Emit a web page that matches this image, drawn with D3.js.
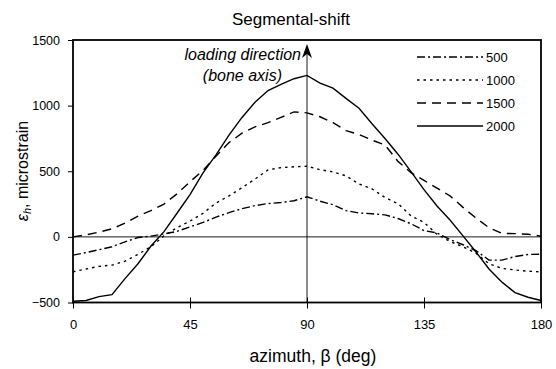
<!DOCTYPE html>
<html><head><meta charset="utf-8">
<script src="https://cdn.jsdelivr.net/npm/d3@7"></script>
<style>body{margin:0;background:#fff;}svg{display:block;font-family:"Liberation Sans",Arial,sans-serif;}</style>
</head><body>
<svg id="chart" width="556" height="369"></svg>
<script>
const azimuth = [0,5,10,15,20,25,30,35,40,45,50,55,60,65,70,75,80,85,90,95,100,105,110,115,120,125,130,135,140,145,150,155,160,165,170,175,180];
const s500  = [-139,-120,-98,-75,-38,-5,6,22,42,76,110,150,185,215,238,254,262,275,305,272,245,200,182,176,168,140,100,48,30,-20,-60,-105,-177,-177,-150,-134,-132];
const s1000 = [-266,-245,-225,-215,-185,-133,-75,8,70,120,180,258,312,375,440,510,528,534,538,512,495,465,403,366,300,253,160,110,20,-35,-75,-125,-205,-240,-252,-262,-266];
const s1500 = [0,15,36,62,104,158,200,250,328,420,506,615,718,790,838,870,910,952,945,915,870,810,780,737,700,575,490,430,372,312,225,143,70,26,25,20,5];
const s2000 = [-490,-485,-455,-440,-318,-205,-70,40,180,322,488,625,775,910,1026,1115,1162,1205,1230,1172,1133,1055,980,862,750,630,497,360,235,128,8,-115,-245,-345,-425,-460,-485];
const seriesNames = ["500","1000","1500","2000"];
const xTicks = [0,45,90,135,180];
const yTicks = [-500,0,500,1000,1500];

const series = [
  {name:seriesNames[0], values:s500,  dash:"8,3,2,3"},
  {name:seriesNames[1], values:s1000, dash:"2.5,4"},
  {name:seriesNames[2], values:s1500, dash:"9,6"},
  {name:seriesNames[3], values:s2000, dash:null}
];

const svg = d3.select("#chart");
const L=73, R=541, T=40, B=302.5;
const x = d3.scaleLinear().domain([0,180]).range([L,R]);
const y = d3.scaleLinear().domain([-500,1500]).range([B,T]);

// title
svg.append("text").attr("x",291).attr("y",25).attr("text-anchor","middle")
  .attr("font-size",17).text("Segmental-shift");

// zero line and 90 line
svg.append("line").attr("x1",L).attr("x2",R).attr("y1",y(0)).attr("y2",y(0))
  .attr("stroke","#000").attr("stroke-width",0.9);
svg.append("line").attr("x1",x(90)).attr("x2",x(90)).attr("y1",B).attr("y2",y(1440))
  .attr("stroke","#000").attr("stroke-width",0.9);
// arrow head
const ax = x(90), ay = 44;
svg.append("path").attr("d",`M${ax},${ay} L${ax+5},${ay+14} L${ax},${ay+10} L${ax-5},${ay+14} Z`).attr("fill","#000");

// annotation
svg.append("text").attr("x",301).attr("y",60).attr("text-anchor","end").attr("font-style","italic")
  .attr("font-size",16).text("loading direction");
svg.append("text").attr("x",282).attr("y",81).attr("text-anchor","end").attr("font-style","italic")
  .attr("font-size",16).text("(bone axis)");

// lines
const line = d3.line().x((d,i)=>x(azimuth[i])).y(d=>y(d)).curve(d3.curveLinear);
series.forEach(s=>{
  svg.append("path").attr("d",line(s.values)).attr("fill","none").attr("stroke","#000")
    .attr("stroke-width",1.4).attr("stroke-dasharray",s.dash);
});

// axes
const yAxis = d3.axisLeft(y).tickValues(yTicks).tickSize(5).tickPadding(8).tickFormat(d3.format("d"));
const gy = svg.append("g").attr("transform",`translate(${L},0)`).call(yAxis);
gy.select(".domain").remove();
gy.selectAll("text").attr("font-size",12.5).attr("font-family","Liberation Sans, Arial, sans-serif").attr("fill","#000");
gy.selectAll("line").attr("stroke","#000");

const xAxis = d3.axisBottom(x).tickValues(xTicks).tickSizeInner(6).tickSizeOuter(0).tickPadding(11.5);
const gx = svg.append("g").attr("transform",`translate(0,${B})`).call(xAxis);
gx.select(".domain").remove();
gx.selectAll(".tick line").attr("y1",-5).attr("stroke","#000");
gx.selectAll("text").attr("font-size",13).attr("font-family","Liberation Sans, Arial, sans-serif").attr("fill","#000");

// frame
svg.append("rect").attr("x",L).attr("y",T).attr("width",R-L).attr("height",B-T)
  .attr("fill","none").attr("stroke","#000").attr("stroke-width",1.8);

// axis labels
svg.append("text").attr("x",313).attr("y",362).attr("text-anchor","middle").attr("font-size",17.5)
  .text("azimuth, β (deg)");
const yl = svg.append("text").attr("transform",`translate(28,171) rotate(-90)`).attr("text-anchor","middle").attr("font-size",16);
yl.append("tspan").attr("font-style","italic").text("ε");
yl.append("tspan").attr("font-style","italic").attr("font-size",11).attr("dy",3).text("h");
yl.append("tspan").attr("dy",-3).text(", microstrain");

// legend
const legY = [57,80,103,126];
series.forEach((s,i)=>{
  svg.append("line").attr("x1",417).attr("x2",483).attr("y1",legY[i]).attr("y2",legY[i])
    .attr("stroke","#000").attr("stroke-width",1.4).attr("stroke-dasharray",s.dash);
  svg.append("text").attr("x",486).attr("y",legY[i]+4.5).attr("font-size",13).text(s.name);
});
</script>
</body></html>
